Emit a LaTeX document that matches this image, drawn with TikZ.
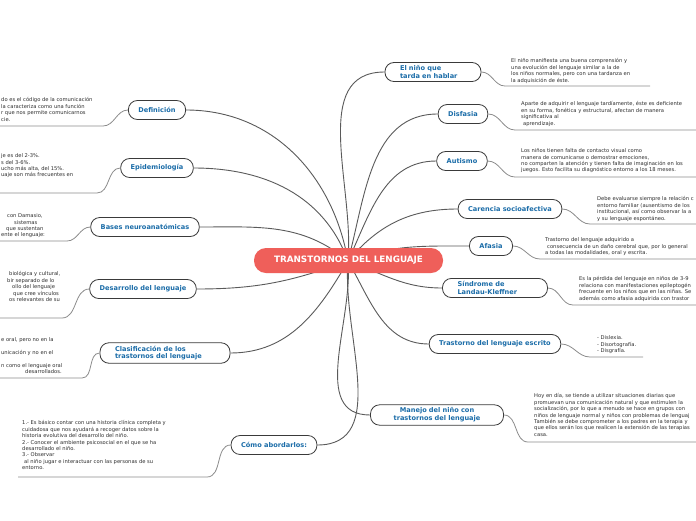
\documentclass[tikz,border=0pt]{standalone}
\usepackage{fontspec}
\setmainfont{DejaVu Sans}
\usetikzlibrary{positioning}
\definecolor{rootred}{HTML}{EF5F5A}
\definecolor{topicblue}{HTML}{1A6CA8}
\definecolor{edge}{HTML}{3A3A3A}
\definecolor{branchgrey}{HTML}{5A5A5A}
\definecolor{leafgrey}{HTML}{8C8C8C}
\definecolor{notetext}{HTML}{2E2E2E}
\newcommand{\notefont}{\fontsize{5.2}{6.4}\selectfont}
\newcommand{\topicfont}{\fontsize{6.6}{7.8}\selectfont\bfseries}
\newcommand{\rootfont}{\fontsize{8.8}{10}\selectfont\bfseries}
\tikzset{
  topic/.style={draw=edge,fill=white,rounded corners=9pt,line width=0.8pt,text=topicblue,font=\topicfont,inner xsep=10pt,minimum height=19pt},
  twoline/.style={topic,inner xsep=15pt,inner ysep=3pt,align=left},
  note/.style={font=\notefont,align=left,inner sep=0pt,anchor=north west,text=notetext},
  branch/.style={draw=branchgrey,line width=0.9pt},
  leaf/.style={draw=leafgrey,line width=0.8pt}
}
\begin{document}
\begin{tikzpicture}[x=1pt,y=1pt]
  \useasboundingbox (0,0) rectangle (696,-520);
  \fill[white] (0,0) rectangle (696,-520);
  \coordinate (hub) at (348,-261);

  \node[topic] (def) at (157,-110) {Definición};
  \node[topic] (epi) at (157,-168) {Epidemiología};
  \node[topic] (bases) at (145,-227) {Bases neuroanatómicas};
  \node[topic] (desa) at (143,-289) {Desarrollo del lenguaje};
  \node[twoline,text width=100pt] (clas) at (165,-353) {Clasificación de los\\trastornos del lenguaje};
  \node[topic] (como) at (274,-445) {Cómo abordarlos:};

  \node[twoline,text width=66pt] (nino) at (433,-72) {El niño que\\tarda en hablar};
  \node[topic] (disf) at (463,-114) {Disfasia};
  \node[topic] (auti) at (462,-161) {Autismo};
  \node[topic] (care) at (510,-209) {Carencia socioafectiva};
  \node[topic] (afas) at (491,-246) {Afasia};
  \node[twoline,text width=75pt] (sind) at (495,-288) {Síndrome de\\Landau-Kleffner};
  \node[topic] (tras) at (495,-344) {Trastorno del lenguaje escrito};
  \node[twoline,text width=103pt,align=center] (mane) at (437,-415) {Manejo del niño con\\trastornos del lenguaje};

  \node[note] (deftxt) at (1,-97.5) {do es el código de la comunicación\\la caracteriza como una función\\r que nos permite comunicarnos\\cie.};
  \node[note] (epitxt) at (1,-153.5) {je es del 2-3\%.\\s del 3-6\%.\\ucho más alta, del 15\%.\\uaje son más frecuentes en};
  \node[note] (basestxt) at (1,-213.5) {\hspace*{6pt}con Damasio,\\\hspace*{13pt}sistemas\\\hspace*{5pt}que sustentan\\ente el lenguaje:};
  \node[note] (desatxt) at (1,-271.5) {\hspace*{8pt}biológica y cultural,\\\hspace*{6pt}bir separado de lo\\\hspace*{11pt}ollo del lenguaje\\\hspace*{12pt}que cree vínculos\\\hspace*{8pt}os relevantes de su};
  \node[note] (clastxt) at (1,-337.5) {e oral, pero no en la\\[6.4pt]unicación y no en el\\[6.4pt]n como el lenguaje oral\\\hspace*{24pt}desarrollados.};
  \node[note] (comotxt) at (22,-420.5) {1.- Es básico contar con una historia clínica completa y\\cuidadosa que nos ayudará a recoger datos sobre la\\historia evolutiva del desarrollo del niño.\\2.- Conocer el ambiente psicosocial en el que se ha\\desarrollado el niño.\\3.- Observar\\\hspace*{2pt}al niño jugar e interactuar con las personas de su\\entorno.};

  \node[note] (ninotxt) at (511,-58.5) {El niño manifiesta una buena comprensión y\\una evolución del lenguaje similar a la de\\los niños normales, pero con una tardanza en\\la adquisición de éste.};
  \node[note] (disftxt) at (521,-101.5) {Aparte de adquirir el lenguaje tardíamente, éste es deficiente\\en su forma, fonética y estructural, afectan de manera\\significativa al\\\hspace*{2pt}aprendizaje.};
  \node[note] (autitxt) at (521,-148.5) {Los niños tienen falta de contacto visual como\\manera de comunicarse o demostrar emociones,\\no comparten la atención y tienen falta de imaginación en los\\juegos. Esto facilita su diagnóstico entorno a los 18 meses.};
  \node[note] (caretxt) at (597,-196.5) {Debe evaluarse siempre la relación c\\entorno familiar (ausentismo de los\\institucional, así como observar la a\\y su lenguaje espontáneo.};
  \node[note] (afastxt) at (545,-237.5) {Trastorno del lenguaje adquirido a\\\hspace*{2pt}consecuencia de un daño cerebral que, por lo general\\a todas las modalidades, oral y escrita.};
  \node[note] (sindtxt) at (579,-276.5) {Es la pérdida del lenguaje en niños de 3-9\\relaciona con manifestaciones epileptogén\\frecuente en los niños que en las niñas. Se\\además como afasia adquirida con trastor};
  \node[note] (trastxt) at (597,-335.5) {- Dislexia.\\- Disortografía.\\- Disgrafía.};
  \node[note] (manetxt) at (534,-393.5) {Hoy en día, se tiende a utilizar situaciones diarias que\\promuevan una comunicación natural y que estimulen la\\socialización, por lo que a menudo se hace en grupos con\\niños de lenguaje normal y niños con problemas de lenguaj\\También se debe comprometer a los padres en la terapia y\\que ellos serán los que realicen la extensión de las terapias\\casa.};

  \coordinate (defjoin) at (103,-126);   \coordinate (defend) at (-2,-126);
  \coordinate (epijoin) at (97,-193);    \coordinate (epiend) at (-2,-193);
  \coordinate (basesjoin) at (67,-241);  \coordinate (basesend) at (-2,-241);
  \coordinate (desajoin) at (62,-318);   \coordinate (desaend) at (-2,-318);
  \coordinate (clasjoin) at (82,-378);   \coordinate (clasend) at (-2,-378);
  \coordinate (comojoin) at (207,-477);  \coordinate (comoend) at (18,-477);
  \coordinate (ninojoin) at (505,-86);   \coordinate (ninoend) at (650,-86);
  \coordinate (disfjoin) at (515,-130);  \coordinate (disfend) at (698,-130);
  \coordinate (autijoin) at (515,-177);  \coordinate (autiend) at (698,-177);
  \coordinate (carejoin) at (590,-224);  \coordinate (careend) at (698,-224);
  \coordinate (afasjoin) at (540,-259);  \coordinate (afasend) at (698,-259);
  \coordinate (sindjoin) at (573,-305);  \coordinate (sindend) at (698,-305);
  \coordinate (trasjoin) at (590,-357);  \coordinate (trasend) at (643,-357);
  \coordinate (manejoin) at (528,-442);  \coordinate (maneend) at (698,-442);

  \draw[leaf] (def.west) to[out=180,in=0] (defjoin) -- (defend);
  \draw[leaf] (epi.west) to[out=180,in=0] (epijoin) -- (epiend);
  \draw[leaf] (bases.west) to[out=180,in=0] (basesjoin) -- (basesend);
  \draw[leaf] (desa.west) to[out=180,in=0] (desajoin) -- (desaend);
  \draw[leaf] (clas.west) to[out=180,in=0] (clasjoin) -- (clasend);
  \draw[leaf] (como.west) to[out=180,in=0] (comojoin) -- (comoend);
  \draw[leaf] (nino.east) to[out=0,in=180] (ninojoin) -- (ninoend);
  \draw[leaf] (disf.east) to[out=0,in=180] (disfjoin) -- (disfend);
  \draw[leaf] (auti.east) to[out=0,in=180] (autijoin) -- (autiend);
  \draw[leaf] (care.east) to[out=0,in=180] (carejoin) -- (careend);
  \draw[leaf] (afas.east) to[out=0,in=180] (afasjoin) -- (afasend);
  \draw[leaf] (sind.east) to[out=0,in=180] (sindjoin) -- (sindend);
  \draw[leaf] (tras.east) to[out=0,in=180] (trasjoin) -- (trasend);
  \draw[leaf] (mane.east) to[out=0,in=180] (manejoin) -- (maneend);

  \draw[branch] (hub) to[out=100,in=0] (def.east);
  \draw[branch] (hub) to[out=110,in=0] (epi.east);
  \draw[branch] (hub) to[out=140,in=0] (bases.east);
  \draw[branch] (hub) to[out=200,in=0] (desa.east);
  \draw[branch] (hub) to[out=240,in=0] (clas.east);
  \draw[branch] (hub) to[out=265,in=0] (como.east);
  \draw[branch] (hub) to[out=85,in=180] (nino.west);
  \draw[branch] (hub) to[out=75,in=180] (disf.west);
  \draw[branch] (hub) to[out=65,in=180] (auti.west);
  \draw[branch] (hub) to[out=50,in=180] (care.west);
  \draw[branch] (hub) to[out=20,in=180] (afas.west);
  \draw[branch] (hub) to[out=-20,in=180] (sind.west);
  \draw[branch] (hub) to[out=-60,in=180] (tras.west);
  \draw[branch] (hub) to[out=-85,in=180] (mane.west);

  \node[fill=rootred,rounded corners=12pt,minimum width=189pt,minimum height=25pt,text=white,font=\rootfont] (root) at (348.5,-260.5) {TRANSTORNOS DEL LENGUAJE};
\end{tikzpicture}
\end{document}
